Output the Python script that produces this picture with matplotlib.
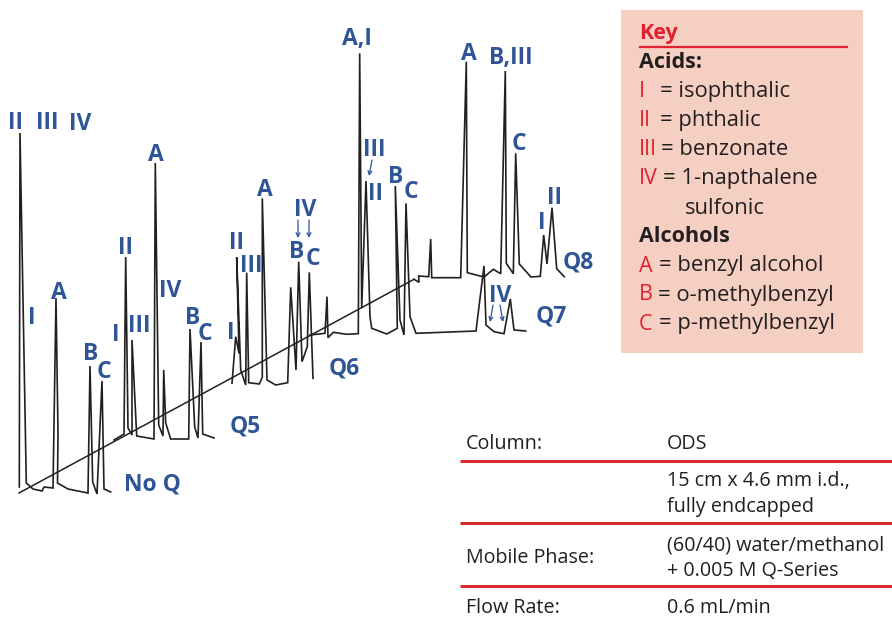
import matplotlib
matplotlib.use("Agg")
import matplotlib.pyplot as plt
from matplotlib.patches import Rectangle

plt.rcParams['font.family'] = ['Open Sans', 'DejaVu Sans']

# chromatogram traces (pixel positions of the reference)
noq_x = [19.3, 20, 26.3, 33, 42, 44, 53, 56, 58, 57.5, 68, 88, 90, 92.7, 97, 102, 104, 110.7]
noq_y = [487, 133, 483, 489, 491, 487, 488, 298, 433, 483, 489, 493, 366, 482, 494, 381, 489, 492]

q5_x = [114, 124, 125.7, 128, 132, 132, 136.7, 154, 155.3, 158.7, 163, 163.7, 165.7, 170.7, 188.7, 190, 194.7, 198, 201, 202.7, 214]
q5_y = [440, 434, 257, 428, 435, 340, 436, 439, 163, 425, 436, 370, 423, 439, 439, 329, 427, 438, 342, 434, 438]

q6_x = [232, 235.7, 239, 236.7, 240.7, 245.7, 246.7, 248.7, 259.3, 262.3, 262.3, 267, 275.7, 287.7, 290.7, 296, 298.7, 302, 307.3, 309.3, 313]
q6_y = [383.3, 336.7, 353.3, 257.3, 370, 385, 272.7, 382.7, 384, 377.3, 198.3, 380, 385, 382.7, 287.3, 370, 261.7, 361.7, 346.7, 272.3, 378.3]

q7_x = [310, 325, 327, 328, 333.3, 346.7, 358.3, 359.7, 361.7, 366, 370, 371.7, 386.7, 397.3, 395.3, 400, 404, 406, 410, 416, 476, 484, 486, 494, 504, 510.3, 514, 525.7]
q7_y = [335, 333.3, 296.7, 337.7, 332.3, 334.3, 333.7, 53.3, 308.3, 181, 316.7, 328.3, 334, 328.3, 186, 320, 335, 203.3, 316.7, 333.3, 331, 266, 325, 331.7, 333.7, 299, 330, 331]

q8_x = [414, 419, 418.7, 428.7, 430.7, 431.7, 460.7, 466.3, 467.3, 484, 493.3, 500.7, 505.3, 506.3, 513.3, 515.7, 519.3, 531, 540.3, 543.7, 547, 552, 556.7, 564.3]
q8_y = [279.3, 282.3, 276, 276.7, 239, 277.7, 277.7, 61.7, 272.7, 277, 269.3, 273.7, 71, 263.3, 273.7, 153.3, 264, 277, 276.3, 235, 264, 207.7, 268.7, 276.7]

axis_x = [19, 414]
axis_y = [493, 279.3]

peak_labels = ["II", "III", "IV", "I", "A", "B", "C", "No Q",
               "II", "I", "III", "A", "IV", "B", "C", "Q5",
               "II", "I", "III", "A", "IV", "B", "C", "Q6",
               "A,I", "III", "II", "B", "C", "Q7",
               "A", "B,III", "C", "IV", "I", "II", "Q8"]
label_x = [16, 47, 80, 32, 59, 91, 104, 152,
           125, 116, 139, 156, 170, 192.5, 205, 245.5,
           236.5, 231, 251, 265, 305, 297, 313, 344,
           357, 374, 375, 396, 411, 551.5,
           469, 511, 519, 500, 542, 554.5, 578.5]
label_y = [123, 123, 124, 318, 293, 354, 372, 485,
           248, 335, 326, 155, 291, 318, 334, 426,
           243, 333, 266, 190, 210, 252, 259, 369,
           39, 150, 194, 177, 192, 316,
           54, 58, 144, 296, 223, 198, 263]

key_acids = ["I", "II", "III", "IV"]
key_acid_names = ["isophthalic", "phthalic", "benzonate", "1-napthalene"]
key_acid_eq = [660, 660, 661, 663]
key_alcohols = ["A", "B", "C"]
key_alcohol_names = ["benzyl alcohol", "o-methylbenzyl", "p-methylbenzyl"]
key_alcohol_eq = [659, 658, 659]

table_left = ["Column:", "Mobile Phase:", "Flow Rate:"]
table_left_y = [444, 558, 608]
table_right = ["ODS", "15 cm x 4.6 mm i.d.,\nfully endcapped", "(60/40) water/methanol\n+ 0.005 M Q-Series", "0.6 mL/min"]
table_right_y = [444, 494, 558, 608]
rule_y = [460.5, 523, 586]

blue = "#2F5597"
red = "#E0212F"
ink = "#231F20"

fig = plt.figure(figsize=(8.92, 6.22), dpi=100)
ax = fig.add_axes([0, 0, 1, 1])
ax.set_xlim(0, 892)
ax.set_ylim(622, 0)
ax.axis("off")

for xs, ys in [(noq_x, noq_y), (q5_x, q5_y), (q6_x, q6_y), (q7_x, q7_y), (q8_x, q8_y)]:
    ax.plot(xs, ys, color=ink, lw=1.2, solid_joinstyle="miter")
ax.plot(axis_x, axis_y, color=ink, lw=1.1)

for t, x, y in zip(peak_labels, label_x, label_y):
    ax.text(x, y, t, color=blue, fontsize=16.5, fontweight="bold", ha="center", va="center")

# small arrows under the IV / III labels
for x0, y0, x1, y1 in [(298, 220, 298, 238), (309, 220, 309, 238), (372, 160, 369, 176),
                       (493, 305, 490, 322), (500, 305, 503, 322)]:
    ax.annotate("", xy=(x1, y1), xytext=(x0, y0),
                arrowprops=dict(arrowstyle="->", color=blue, lw=0.9, mutation_scale=7, shrinkA=0, shrinkB=0))

# key box
ax.add_patch(Rectangle((621, 10), 242, 343, facecolor="#F6CFC3", edgecolor="none"))
ax.text(639, 33, "Key", color=red, fontsize=15.5, fontweight="bold", va="center")
ax.plot([640, 847], [47, 47], color=red, lw=1.6)
ax.text(639, 62, "Acids:", color=ink, fontsize=15.5, fontweight="bold", va="center")
for i, (s, n, ex) in enumerate(zip(key_acids, key_acid_names, key_acid_eq)):
    y = 91.5 + i * 29
    ax.text(639, y, s, color=red, fontsize=15.5, va="center")
    ax.text(ex, y, "= " + n, color=ink, fontsize=15.8, va="center")
ax.text(685, 208.5, "sulfonic", color=ink, fontsize=15.8, va="center")
ax.text(639, 237, "Alcohols", color=ink, fontsize=15.5, fontweight="bold", va="center")
for i, (s, n, ex) in enumerate(zip(key_alcohols, key_alcohol_names, key_alcohol_eq)):
    y = 266 + i * 29
    ax.text(639, y, s, color=red, fontsize=15.5, va="center")
    ax.text(ex, y, "= " + n, color=ink, fontsize=15.8, va="center")

# conditions table
for y in rule_y:
    ax.plot([460, 892], [y, y], color="#D9252F", lw=2.1, solid_capstyle="butt")
for t, y in zip(table_left, table_left_y):
    ax.text(466, y, t, color=ink, fontsize=14.2, va="center")
for t, y in zip(table_right, table_right_y):
    ax.text(667, y, t, color=ink, fontsize=14.2, va="center", linespacing=1.34)

fig.savefig("out.png", dpi=100)
